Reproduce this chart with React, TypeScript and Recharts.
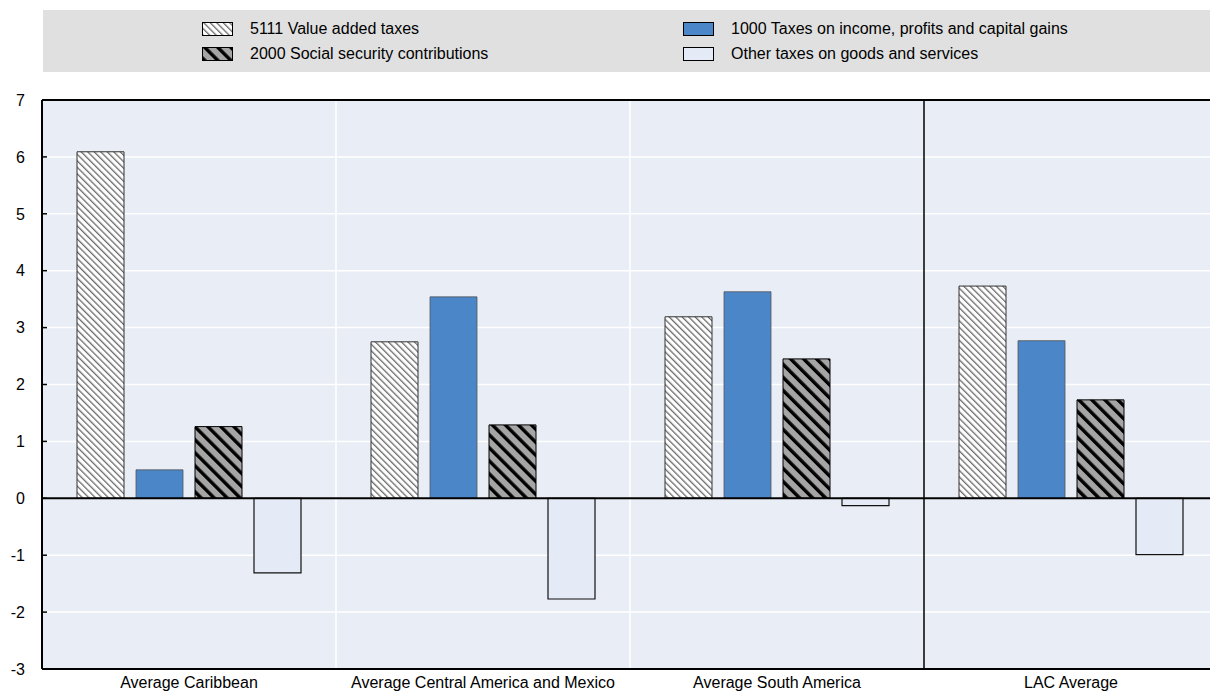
import React from 'react';
import { BarChart, Bar, XAxis, YAxis, CartesianGrid, ReferenceLine } from 'recharts';

const categories = [
  'Average Caribbean',
  'Average Central America and Mexico',
  'Average South America',
  'LAC Average',
];
const vat = [6.09, 2.75, 3.19, 3.73];
const income = [0.5, 3.54, 3.63, 2.77];
const ssc = [1.26, 1.29, 2.45, 1.73];
const other = [-1.31, -1.77, -0.13, -0.99];
const yTicks = [-3, -2, -1, 0, 1, 2, 3, 4, 5, 6, 7];

const seriesNames = {
  vat: '5111 Value added taxes',
  income: '1000 Taxes on income, profits and capital gains',
  ssc: '2000 Social security contributions',
  other: 'Other taxes on goods and services',
};

const data = categories.map((name, i) => ({
  name,
  vat: vat[i],
  income: income[i],
  ssc: ssc[i],
  other: other[i],
}));

const FONT = '"Liberation Sans", Arial, sans-serif';
const PLOT_BG = '#e9edf6';
const INCOME_BLUE = '#4a86c8';
const OTHER_FILL = '#e5ebf6';

const Patterns: React.FC<{ prefix: string }> = ({ prefix }) => (
  <defs>
    <pattern id={`${prefix}vat`} width="4.6" height="4.6" patternUnits="userSpaceOnUse" patternTransform="rotate(-45)">
      <rect width="4.6" height="4.6" fill="#fff" />
      <rect width="1.3" height="4.6" fill="#6a6a6a" />
    </pattern>
    <pattern id={`${prefix}ssc`} width="9.2" height="9.2" patternUnits="userSpaceOnUse" patternTransform="rotate(-45)">
      <rect width="9.2" height="9.2" fill="#a5a5a5" />
      <rect width="3.4" height="9.2" fill="#000" />
    </pattern>
  </defs>
);

const Swatch: React.FC<{ fill: string; stroke?: string }> = ({ fill, stroke = '#000' }) => (
  <svg width={31} height={14} style={{ display: 'block' }}>
    <Patterns prefix="lg-" />
    <rect x={0.5} y={0.5} width={30} height={13} fill={fill} stroke={stroke} strokeWidth={1} />
  </svg>
);

const LegendItem: React.FC<{ left: number; top: number; fill: string; label: string }> = ({ left, top, fill, label }) => (
  <div style={{ position: 'absolute', left, top, display: 'flex', alignItems: 'center', height: 14 }}>
    <Swatch fill={fill} />
    <span style={{ marginLeft: 17, fontFamily: FONT, fontSize: 16, color: '#000', whiteSpace: 'nowrap', lineHeight: '14px' }}>
      {label}
    </span>
  </div>
);

const YTick: React.FC<any> = ({ y, payload }) => (
  <g>
    <line x1={42} x2={47} y1={y} y2={y} stroke="#000" strokeWidth={1.5} />
    <text x={25} y={y} dy="0.36em" textAnchor="end" fontFamily={FONT} fontSize={16} fill="#000">
      {payload.value}
    </text>
  </g>
);

const boundaries = (frac: number[]) => ({ offset }: any) =>
  frac.map((f) => offset.left + offset.width * f);

export default function App() {
  return (
    <div style={{ position: 'absolute', left: 0, top: 0, width: 1210, height: 696, overflow: 'hidden', background: '#fff' }}>
      <div style={{ position: 'absolute', left: 43, top: 10, width: 1167, height: 62, background: '#e0e0e0' }}>
        <LegendItem left={159} top={12} fill="url(#lg-vat)" label={seriesNames.vat} />
        <LegendItem left={159} top={37} fill="url(#lg-ssc)" label={seriesNames.ssc} />
        <LegendItem left={640} top={12} fill={INCOME_BLUE} label={seriesNames.income} />
        <LegendItem left={640} top={37} fill={OTHER_FILL} label={seriesNames.other} />
      </div>
      <BarChart
        width={1218}
        height={696}
        data={data}
        margin={{ top: 100, right: 0, bottom: 0, left: 0 }}
        barCategoryGap={35}
        barGap={12}
      >
        <Patterns prefix="ch-" />
        <CartesianGrid
          fill={PLOT_BG}
          stroke="#fff"
          strokeWidth={1.5}
          vertical
          verticalCoordinatesGenerator={boundaries([0.25, 0.5])}
        />
        <CartesianGrid
          horizontal={false}
          vertical
          stroke="#000"
          strokeWidth={1.5}
          verticalCoordinatesGenerator={boundaries([0.75])}
        />
        <XAxis
          dataKey="name"
          height={27}
          tickLine={false}
          axisLine={{ stroke: '#000', strokeWidth: 2 }}
          tick={{ fontFamily: FONT, fontSize: 16, fill: '#000' }}
          interval={0}
        />
        <YAxis
          width={42}
          domain={[-3, 7]}
          ticks={yTicks}
          interval={0}
          tickLine={false}
          axisLine={{ stroke: '#000', strokeWidth: 2 }}
          tick={<YTick />}
        />
        <Bar dataKey="vat" name={seriesNames.vat} fill="url(#ch-vat)" stroke="#333" strokeWidth={1} isAnimationActive={false} />
        <Bar dataKey="income" name={seriesNames.income} fill={INCOME_BLUE} stroke="#555" strokeWidth={0.8} isAnimationActive={false} />
        <Bar dataKey="ssc" name={seriesNames.ssc} fill="url(#ch-ssc)" stroke="#000" strokeWidth={1} isAnimationActive={false} />
        <Bar dataKey="other" name={seriesNames.other} fill={OTHER_FILL} stroke="#111" strokeWidth={1.2} isAnimationActive={false} />
        <ReferenceLine y={0} stroke="#000" strokeWidth={2} />
        <ReferenceLine y={7} stroke="#000" strokeWidth={2} />
      </BarChart>
    </div>
  );
}
